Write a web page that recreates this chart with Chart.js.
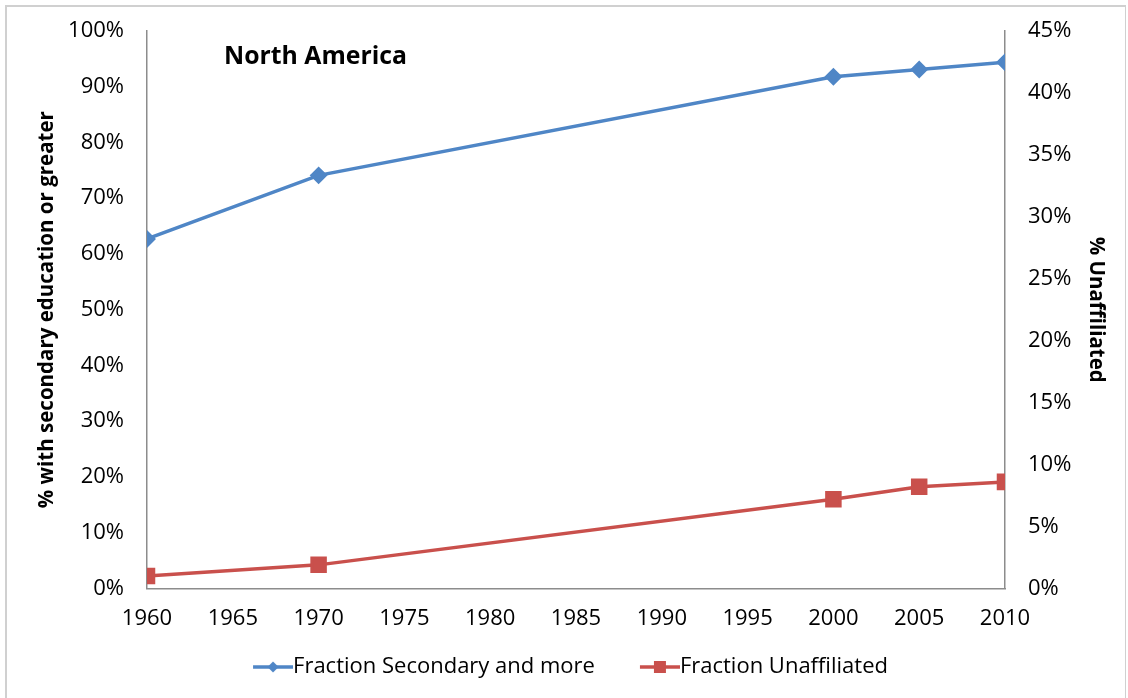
<!DOCTYPE html>
<html>
<head>
<meta charset="utf-8">
<script src="https://cdn.jsdelivr.net/npm/chart.js@4/dist/chart.umd.min.js"></script>
<style>
  html, body { margin: 0; padding: 0; background: #fff; }
  #wrap { position: relative; width: 1128px; height: 698px; }
  #frame { position: absolute; left: 5px; top: 5px; width: 1121px; height: 700px;
           border-left: 2px solid #d0d0d0; border-top: 2px solid #d0d0d0; border-right: 1px solid #d0d0d0; box-sizing: border-box; }
  canvas { position: absolute; left: 0; top: 0; }
</style>
</head>
<body>
<div id="wrap">
  <div id="frame"></div>
  <canvas id="eduChart" width="1128" height="698"></canvas>
</div>
<script>
const years = [1960, 1970, 2000, 2005, 2010];
const secondary = [62.7, 74.1, 91.8, 93.1, 94.4];
const unaffiliated = [1.0, 1.9, 7.2, 8.2, 8.6];
const leftTitle = '% with secondary education or greater';
const rightTitle = '% Unaffiliated';
const regionName = 'North America';

const BLUE = '#4f86c6';
const RED = '#c9504c';
const AXIS = '#8c8c8c';
const FONT = "'Open Sans', sans-serif";

// line+marker swatch for the legend; the transparent left part spaces the items apart
function swatch(color, shape) {
  const c = document.createElement('canvas');
  c.width = 86; c.height = 14;
  const ctx = c.getContext('2d');
  const x0 = 46;
  ctx.strokeStyle = color; ctx.fillStyle = color; ctx.lineWidth = 3.5;
  ctx.beginPath(); ctx.moveTo(x0, 7); ctx.lineTo(x0 + 40, 7); ctx.stroke();
  ctx.beginPath();
  if (shape === 'diamond') {
    ctx.moveTo(x0 + 20, 1.5); ctx.lineTo(x0 + 25.5, 7); ctx.lineTo(x0 + 20, 12.5); ctx.lineTo(x0 + 14.5, 7);
  } else {
    ctx.rect(x0 + 14, 1, 12, 12);
  }
  ctx.closePath(); ctx.fill();
  return c;
}
const swatches = [swatch(BLUE, 'diamond'), swatch(RED, 'square')];

const regionLabel = {
  id: 'regionLabel',
  afterDraw(chart) {
    const ctx = chart.ctx;
    ctx.save();
    ctx.font = "bold 24.8px " + FONT;
    ctx.fillStyle = '#000';
    ctx.textBaseline = 'middle';
    ctx.fillText(regionName, chart.chartArea.left + 77, chart.chartArea.top + 26);
    ctx.restore();
  }
};

// nudge the legend row up and slightly left
const legendShift = {
  id: 'legendShift',
  afterLayout(chart) {
    const lg = chart.legend;
    lg.top -= 10; lg.bottom -= 10;
    lg.left -= 11; lg.right -= 11;
  }
};

new Chart(document.getElementById('eduChart'), {
  type: 'line',
  data: {
    datasets: [{
      label: 'Fraction Secondary and more',
      data: years.map((y, i) => ({ x: y, y: secondary[i] })),
      borderColor: BLUE,
      backgroundColor: BLUE,
      borderWidth: 3.5,
      pointStyle: 'rectRot',
      pointRadius: 6.5,
      pointHoverRadius: 6.5,
      yAxisID: 'y'
    }, {
      label: 'Fraction Unaffiliated',
      data: years.map((y, i) => ({ x: y, y: unaffiliated[i] })),
      borderColor: RED,
      backgroundColor: RED,
      borderWidth: 3.5,
      pointStyle: 'rect',
      pointRadius: 9.2,
      pointHoverRadius: 9.2,
      yAxisID: 'y2'
    }]
  },
  options: {
    responsive: false,
    animation: false,
    layout: { padding: { top: 31, left: 0, right: 0, bottom: 0 } },
    plugins: {
      tooltip: { enabled: false },
      legend: {
        position: 'bottom',
        labels: {
          font: { family: FONT, size: 22 },
          color: '#000',
          usePointStyle: true,
          pointStyleWidth: 64,
          boxHeight: 14,
          padding: 10,
          generateLabels(chart) {
            return chart.data.datasets.map((ds, i) => ({
              text: ds.label,
              pointStyle: swatches[i],
              fillStyle: ds.borderColor,
              strokeStyle: ds.borderColor,
              lineWidth: 0,
              fontColor: '#000',
              datasetIndex: i
            }));
          }
        }
      }
    },
    scales: {
      x: {
        type: 'linear',
        min: 1960, max: 2010,
        ticks: { stepSize: 5, callback: v => String(v), color: '#000',
                 font: { family: FONT, size: 22 }, padding: 10, maxRotation: 0 },
        grid: { display: false, drawTicks: true, tickLength: 7, tickColor: AXIS },
        border: { color: AXIS, width: 1.5 },
        afterFit(s) { s.height = 67.6; }
      },
      y: {
        position: 'left',
        min: 0, max: 100,
        ticks: { stepSize: 10, callback: v => v + '%', color: '#000',
                 font: { family: FONT, size: 22 }, padding: 16 },
        grid: { display: false, drawTicks: true, tickLength: 7, tickColor: AXIS },
        border: { color: AXIS, width: 1.5 },
        title: { display: true, text: leftTitle, color: '#000',
                 font: { family: FONT, size: 20.5, weight: 'bold' }, padding: { top: 35, bottom: 0 } },
        afterFit(s) { s.width = 147; }
      },
      y2: {
        position: 'right',
        min: 0, max: 45,
        ticks: { stepSize: 5, callback: v => v + '%', color: '#000',
                 font: { family: FONT, size: 22 }, padding: 16 },
        grid: { display: false, drawTicks: true, tickLength: 7, tickColor: AXIS },
        border: { color: AXIS, width: 1.5 },
        title: { display: true, text: rightTitle, color: '#000',
                 font: { family: FONT, size: 20.5, weight: 'bold' }, padding: { top: 20, bottom: 0 } },
        afterFit(s) { s.width = 123; }
      }
    }
  },
  plugins: [regionLabel, legendShift]
});
</script>
</body>
</html>
